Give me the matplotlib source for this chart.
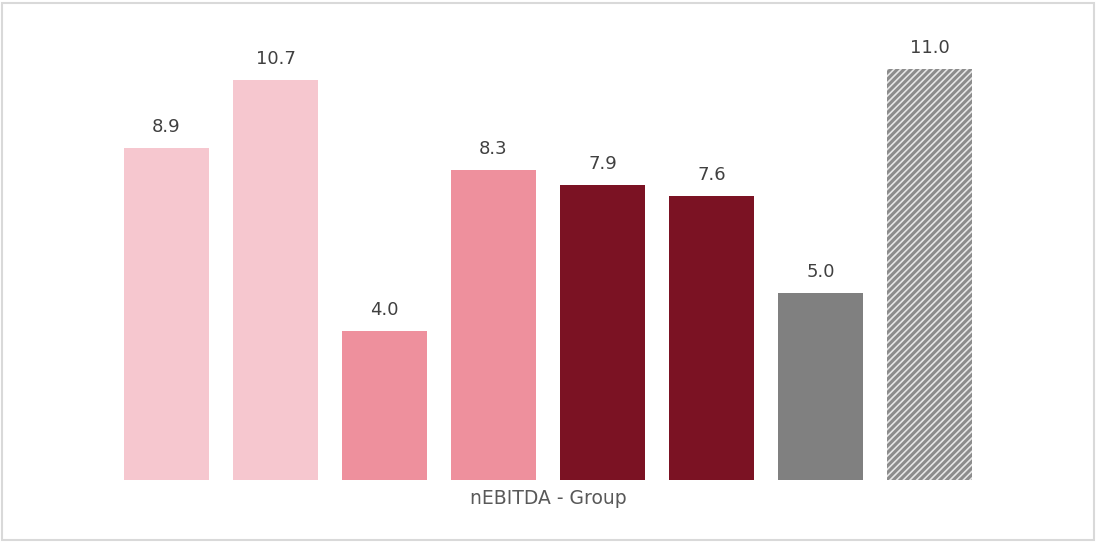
import matplotlib
matplotlib.use("Agg")
import matplotlib.pyplot as plt
from matplotlib.patches import Rectangle

# Values
values = [8.9, 10.7, 4.0, 8.3, 7.9, 7.6, 5.0, 11.0]
colors = ["#F6C7CF", "#F6C7CF", "#EE909D", "#EE909D",
          "#7B1223", "#7B1223", "#808080", "#E6E6E6"]
hatches = ["", "", "", "", "", "", "", "/////"]
category_label = "nEBITDA - Group"

W, H = 1097, 543
fig = plt.figure(figsize=(W / 100, H / 100), dpi=100)

# axes placed in pixel terms: bar pitch ~109 px, baseline at y=480
left, right = 112 / W, 984 / W
bottom, top = (H - 480) / H, (H - 20) / H
ax = fig.add_axes([left, bottom, right - left, top - bottom])

plt.rcParams['hatch.color'] = '#8C8C8C'
plt.rcParams['hatch.linewidth'] = 2.2

x = list(range(len(values)))
bars = ax.bar(x, values, width=0.78, color=colors, linewidth=0)
for b, h in zip(bars, hatches):
    if h:
        b.set_hatch(h)
        b.set_edgecolor('#8C8C8C')
        b.set_linewidth(0)

for xi, v in zip(x, values):
    ax.text(xi, v + 0.32, f"{v:.1f}", ha='center', va='bottom',
            fontsize=13, color='#404040')

ax.set_xlim(-0.5, len(values) - 0.5)
ax.set_ylim(0, 460 / 37.35)
ax.axis('off')

fig.text(548 / W, (H - 498) / H, category_label, ha='center', va='center',
         fontsize=13.5, color='#595959')

# light frame around the whole chart
fig.patches.append(Rectangle((2 / W, 3 / H), (W - 5) / W, (H - 6) / H,
                             transform=fig.transFigure, fill=False,
                             edgecolor='#D9D9D9', linewidth=1.5))

fig.savefig("out.png", dpi=100)
